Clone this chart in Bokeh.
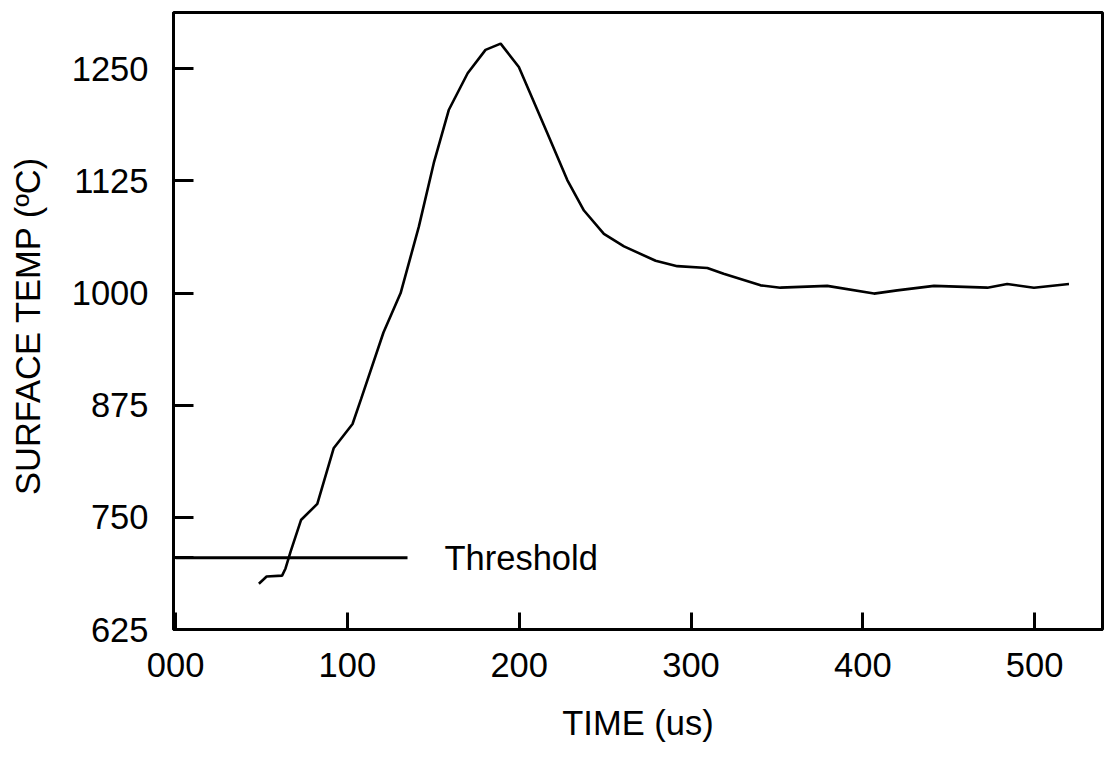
from bokeh.plotting import figure
from bokeh.models import Range1d, FixedTicker
from bokeh.core.properties import value
from bokeh.embed import file_html
from bokeh.resources import INLINE

# ---- data ----
time_us = [48.5, 53, 62, 64, 67, 73, 82.5, 92, 103, 108, 121, 131, 141.6, 150.3,
           159, 170, 180.4, 189.2, 199.8, 216.4, 228, 237.7, 249.3, 261, 279.4,
           292, 309.5, 319, 340.5, 352, 379.3, 406.5, 420, 441.4, 472.5, 484,
           499.6, 520]
surface_temp = [676, 684, 685, 693, 712, 747, 765, 827, 854, 882, 956, 1000, 1074,
                1145, 1204, 1245, 1271, 1278, 1252, 1178, 1126, 1092, 1066, 1052,
                1036, 1030, 1028, 1021.5, 1008.6, 1006, 1008, 999.4, 1003, 1008,
                1006, 1010, 1006, 1010]
threshold_time = [0, 135]
threshold_temp = [705, 705]
threshold_label = ["Threshold"]
threshold_label_x = [156.5]
threshold_label_y = [705]

x_ticks = [0, 100, 200, 300, 400, 500]
x_tick_labels = ["000", "100", "200", "300", "400", "500"]
y_ticks = [625, 705, 750, 875, 1000, 1125, 1250]
y_tick_labels = ["625", "", "750", "875", "1000", "1125", "1250"]

FONT = "Liberation Sans"
FS = "34.5px"

p = figure(width=1104, height=744,
           x_range=Range1d(-1.2, 539.5), y_range=Range1d(625, 1312.7),
           output_backend="svg", toolbar_location=None,
           min_border_left=173, min_border_right=2,
           min_border_top=12, min_border_bottom=113)

p.xgrid.visible = False
p.ygrid.visible = False
p.outline_line_color = "black"
p.outline_line_width = 3
p.outline_line_alpha = 1.0
p.background_fill_color = "white"
p.border_fill_color = "white"

# axes
p.xaxis.ticker = FixedTicker(ticks=x_ticks)
p.xaxis.major_label_overrides = {t: l for t, l in zip(x_ticks, x_tick_labels)}
p.yaxis.ticker = FixedTicker(ticks=y_ticks)
p.yaxis.major_label_overrides = {t: l for t, l in zip(y_ticks, y_tick_labels)}

for ax in (p.xaxis, p.yaxis):
    ax.axis_line_color = "black"
    ax.axis_line_width = 3
    ax.major_tick_line_color = "black"
    ax.major_tick_line_width = 3
    ax.major_tick_out = 0
    ax.minor_tick_line_color = None
    ax.major_label_text_font = FONT
    ax.major_label_text_font_size = FS
    ax.major_label_text_color = "black"
    ax.axis_label_text_font = FONT
    ax.axis_label_text_font_size = FS
    ax.axis_label_text_font_style = "normal"
    ax.axis_label_text_color = "black"

p.xaxis.major_tick_in = 17
p.yaxis.major_tick_in = 20
p.xaxis.major_label_standoff = 23
p.yaxis.major_label_standoff = 25
p.xaxis.axis_label = "TIME (us)"
p.yaxis.axis_label = "SURFACE TEMP  (ºC)"
p.xaxis.axis_label_standoff = 24
p.yaxis.axis_label_standoff = 22

# curve
p.line(time_us, surface_temp, line_color="black", line_width=2.6)

# threshold
p.line(threshold_time, threshold_temp, line_color="black", line_width=3)
p.text(x=threshold_label_x, y=threshold_label_y, text=threshold_label,
       text_font=value(FONT), text_font_size=FS, text_color="black",
       text_baseline="middle", text_align="left")

open("out.html", "w").write(file_html(p, INLINE))
